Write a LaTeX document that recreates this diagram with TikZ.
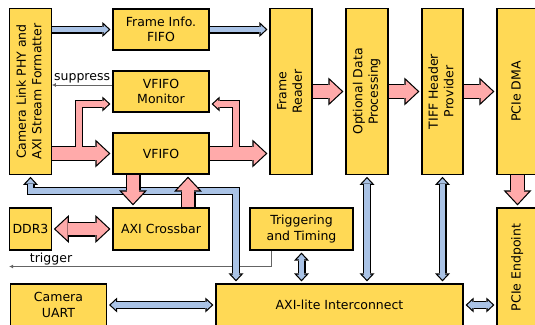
\documentclass[tikz,border=0pt]{standalone}
\usepackage{fontspec}
\setmainfont{DejaVu Sans}
\usepackage{graphicx}
\usetikzlibrary{arrows.meta,backgrounds}

\definecolor{boxyellow}{RGB}{255,217,85}
\definecolor{arrpink}{RGB}{255,170,170}
\definecolor{arrblue}{RGB}{170,195,230}
\definecolor{siggray}{RGB}{100,100,100}

\newcommand{\vtext}[1]{\rotatebox{90}{\begin{tabular}{@{}c@{}}#1\end{tabular}}}

\tikzset{
  WideOut/.tip={Triangle[length=15pt 0 0,width=28pt 0 0,line width=0pt 0 0]},
  WideIn/.tip={Triangle[length=12.04pt 0 0,width=22.47pt 0 0,line width=0pt 0 0]},
  NarrowOut/.tip={Triangle[length=8pt 0 0,width=15pt 0 0,line width=0pt 0 0]},
  NarrowIn/.tip={Triangle[length=5.05pt 0 0,width=9.46pt 0 0,line width=0pt 0 0]},
  box/.style={draw, fill=boxyellow, line width=1.2pt, inner sep=0pt, align=center},
  wideout/.style={draw=black, line width=15pt, shorten >=2pt, >={WideOut}},
  widein/.style={line width=12.6pt, shorten >=3.75pt, >={WideIn}},
  narrowout/.style={draw=black, line width=8pt, shorten >=2pt, >={NarrowOut}},
  narrowin/.style={line width=5.6pt, shorten >=3.75pt, >={NarrowIn}},
  backout/.style={shorten <=2pt},
  backin/.style={shorten <=3.75pt},
  sig/.style={draw=siggray, line width=0.9pt, -{Latex[length=4pt,width=4pt]}},
}

\begin{document}
\begin{tikzpicture}[x=1pt,y=-1pt,font=\fontsize{12.5}{15.5}\selectfont]
\useasboundingbox (0,0) rectangle (535,324);

% blocks
\node[box, minimum width=41.5, minimum height=165.5] (cl) at (30.5,91.5) {\vtext{Camera Link PHY and\\AXI Stream Formatter}};
\node[box, minimum width=96, minimum height=41] (fif) at (161,29.5) {Frame Info.\\FIFO};
\node[box, minimum width=96, minimum height=41] (mon) at (161,91.5) {VFIFO\\Monitor};
\node[box, minimum width=96, minimum height=41] (vf) at (161,153.5) {VFIFO};
\node[box, minimum width=42, minimum height=165.5] (fr) at (291,91.5) {\vtext{Frame\\Reader}};
\node[box, minimum width=42, minimum height=165.5] (odp) at (367,91.5) {\vtext{Optional Data\\Processing}};
\node[box, minimum width=41, minimum height=165.5] (tiff) at (442.5,91.5) {\vtext{TIFF Header\\Provider}};
\node[box, minimum width=41, minimum height=165.5] (dma) at (517.5,91.5) {\vtext{PCIe DMA}};
\node[box, minimum width=41.5, minimum height=42] (ddr) at (30.5,229) {DDR3};
\node[box, minimum width=96, minimum height=42] (axc) at (161,229) {AXI Crossbar};
\node[box, minimum width=103, minimum height=42] (trg) at (301.5,229) {Triggering\\and Timing};
\node[box, minimum width=96, minimum height=42] (uart) at (58.5,305) {Camera\\UART};
\node[box, minimum width=247, minimum height=42] (axil) at (339.5,305) {AXI-lite Interconnect};
\node[box, minimum width=41, minimum height=119] (pep) at (517.5,267.5) {\vtext{PCIe Endpoint}};

\begin{scope}[on background layer]
% control signals
\draw[sig] (mon.west |- 0,85) -- (cl.east |- 0,85) node[midway,above,inner sep=1pt] {suppress};
\draw[sig] (trg.south -| 271,0) |- (cl.west |- 0,266.5) node[pos=0.92,above,inner sep=1pt] {trigger};

% register bus
\foreach \lay in {out,in} {
  \draw[arrblue, narrow\lay, ->] (cl.east |- fif) -- (fif.west);
  \draw[arrblue, narrow\lay, ->] (fif.east) -- (fr.west |- fif);
  \draw[arrblue, narrow\lay, back\lay, <->] (cl.south) |- (236,191) -- (axil.north -| 236,0);
  \draw[arrblue, narrow\lay, back\lay, <->] (trg.south) -- (trg.south |- axil.north);
  \draw[arrblue, narrow\lay, back\lay, <->] (odp.south) -- (odp.south |- axil.north);
  \draw[arrblue, narrow\lay, back\lay, <->] (tiff.south) -- (tiff.south |- axil.north);
  \draw[arrblue, narrow\lay, back\lay, <->] (uart.east) -- (axil.west);
  \draw[arrblue, narrow\lay, back\lay, <->] (axil.east) -- (pep.west |- axil);
}

% data path
\coordinate (jl) at (79,153.5);
\coordinate (jr) at (236,153.5);
\foreach \lay in {out,in} {
  \draw[arrpink, narrow\lay, ->] (jl) |- (mon.west |- 0,104);
  \draw[arrpink, narrow\lay, ->] (jr) |- (mon.east |- 0,104);
  \draw[arrpink, wide\lay, ->] (cl.east |- vf) -- (vf.west);
  \draw[arrpink, wide\lay, ->] (vf.east) -- (fr.west |- vf);
  \draw[arrpink, wide\lay, ->] ([xshift=-28pt]vf.south) -- ([xshift=-28pt]axc.north);
  \draw[arrpink, wide\lay, ->] ([xshift=27pt]axc.north) -- ([xshift=27pt]vf.south);
  \draw[arrpink, wide\lay, back\lay, <->] (ddr.east) -- (axc.west);
  \draw[arrpink, wide\lay, ->] (fr.east) -- (odp.west);
  \draw[arrpink, wide\lay, ->] (odp.east) -- (tiff.west);
  \draw[arrpink, wide\lay, ->] (tiff.east) -- (dma.west);
  \draw[arrpink, wide\lay, ->] (dma.south) -- (pep.north);
}
\end{scope}
\end{tikzpicture}
\end{document}
